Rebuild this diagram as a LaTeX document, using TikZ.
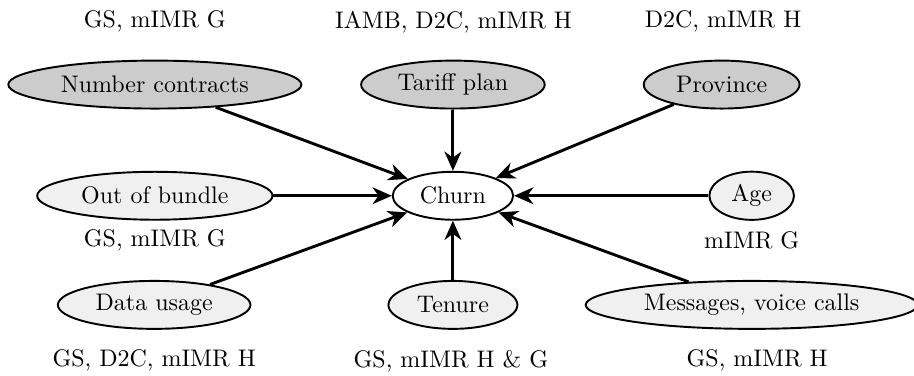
\documentclass[tikz,border=0pt]{standalone}
\usepackage{tikz}
\usetikzlibrary{shapes.geometric,arrows.meta}

\tikzset{
  var/.style={ellipse, draw, thick, inner xsep=4pt, inner ysep=2.5pt, minimum height=20pt},
  found/.style={var, fill=gray!40},
  other/.style={var, fill=gray!12},
  cause/.style={-{Stealth[length=8pt,width=7pt,inset=2.5pt]}, line width=1.2pt},
}

\begin{document}
\begin{tikzpicture}
  \useasboundingbox (0,0) rectangle (13.40,5.51);

  \node [var] (churn) at (6.64,2.64) {Churn};

  \node [found] (contracts) at (2.27,4.27) {Number contracts};
  \node [found] (tariff) at (6.64,4.27) {Tariff plan};
  \node [found] (province) at (10.58,4.27) {Province};

  \node [other] (bundle) at (2.27,2.64) {Out of bundle};
  \node [other] (age) at (11.02,2.64) {Age};

  \node [other] (data) at (2.26,1.04) {Data usage};
  \node [other] (tenure) at (6.64,1.04) {Tenure};
  \node [other] (calls) at (11.02,1.04) {Messages, voice calls};

  % which methods pick each variable
  \node (contracts-by) at (2.27,5.19) {GS, mIMR G};
  \node (tariff-by) at (6.65,5.19) {IAMB, D2C, mIMR H};
  \node (province-by) at (10.60,5.19) {D2C, mIMR H};
  \node (bundle-by) at (2.27,1.98) {GS, mIMR G};
  \node (age-by) at (11.02,1.98) {mIMR G};
  \node (data-by) at (2.26,0.22) {GS, D2C, mIMR H};
  \node (tenure-by) at (6.61,0.22) {GS, mIMR H \& G};
  \node (calls-by) at (11.10,0.22) {GS, mIMR H};

  \draw [cause] (contracts) -- (churn);
  \draw [cause] (tariff) -- (churn);
  \draw [cause] (province) -- (churn);
  \draw [cause] (bundle) -- (churn);
  \draw [cause] (age) -- (churn);
  \draw [cause] (data) -- (churn);
  \draw [cause] (tenure) -- (churn);
  \draw [cause] (calls) -- (churn);
\end{tikzpicture}
\end{document}
